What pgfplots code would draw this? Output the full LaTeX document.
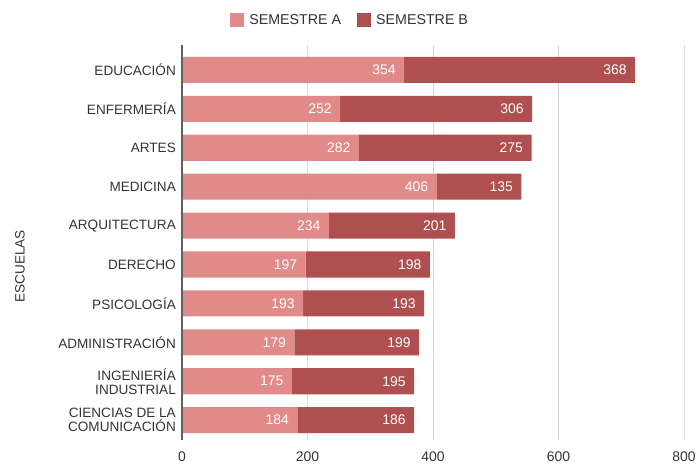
\documentclass[border=0pt]{standalone}
\usepackage{pgfplots}
\pgfplotsset{compat=1.18}
\usepackage{pgfplotstable}
\usepackage{fontspec}
\setmainfont{Liberation Sans}
\definecolor{semA}{HTML}{E08A8A}
\definecolor{semB}{HTML}{B04F4F}
\definecolor{txt}{HTML}{333333}
\pgfplotstableread{
y a b
0 354 368
1 252 306
2 282 275
3 406 135
4 234 201
5 197 198
6 193 193
7 179 199
8 175 195
9 184 186
}\datatable
\begin{document}
\begin{tikzpicture}
\begin{axis}[
  name=ax,
  scale only axis,
  width=502bp, height=395bp,
  xbar stacked,
  bar width=0.67,
  xmin=0, xmax=800,
  ymin=-0.64, ymax=9.51,
  y dir=reverse,
  xtick={0,200,400,600,800},
  ytick={0,...,9},
  yticklabels={EDUCACIÓN,ENFERMERÍA,ARTES,MEDICINA,ARQUITECTURA,DERECHO,PSICOLOGÍA,ADMINISTRACIÓN,{INGENIERÍA\\INDUSTRIAL},{CIENCIAS DE LA\\COMUNICACIÓN}},
  yticklabel style={align=right, font=\fontsize{13.6}{14}\selectfont, text=txt, inner sep=0pt, xshift=-6bp},
  xticklabel style={font=\fontsize{14}{14}\selectfont, text=txt, yshift=-8bp},
  /pgf/number format/assume math mode=true,
  major tick length=0pt,
  xmajorgrids,
  grid style={gray!30, line width=0.8pt},
  axis line style={draw=none},
  ylabel={ESCUELAS},
  every axis y label/.style={at={(rel axis cs:0,0.44)}, rotate=90, anchor=center, yshift=162bp, font=\fontsize{13.6}{14}\selectfont, text=txt},
  legend columns=2,
  legend style={at={(0.335,1)}, anchor=south, yshift=15bp, draw=none, font=\fontsize{14.3}{15}\selectfont, text=txt,
    /tikz/every odd column/.append style={column sep=3bp},
    /tikz/every even column/.append style={column sep=14bp}},
  legend image code/.code={\fill[#1] (0bp,-7bp) rectangle (14bp,7bp);},
  clip=false,
]
\addplot[fill=semA, draw=none] table[x=a, y=y] {\datatable};
\addplot[fill=semB, draw=none] table[x=b, y=y] {\datatable};
\legend{SEMESTRE A, SEMESTRE B}
\end{axis}
\begin{axis}[
  scale only axis,
  width=502bp, height=395bp,
  xmin=0, xmax=800,
  ymin=-0.64, ymax=9.51,
  y dir=reverse,
  hide axis,
  clip=false,
  /pgf/number format/assume math mode=true,
  point meta=explicit,
  nodes near coords,
  every node near coord/.style={anchor=east, xshift=-5bp, text=white, font=\fontsize{14}{14}\selectfont},
]
\addplot[only marks, mark=none] table[x=a, y=y, meta=a] {\datatable};
\addplot[only marks, mark=none] table[x expr=\thisrow{a}+\thisrow{b}, y=y, meta=b] {\datatable};
\end{axis}
\draw[gray!75!black, line width=1.2pt] (ax.north west) -- (ax.south west);
\pgfresetboundingbox
\useasboundingbox ([shift={(-182bp,-29bp)}]ax.south west) rectangle ([shift={(13bp,45bp)}]ax.north east);
\end{tikzpicture}
\end{document}
